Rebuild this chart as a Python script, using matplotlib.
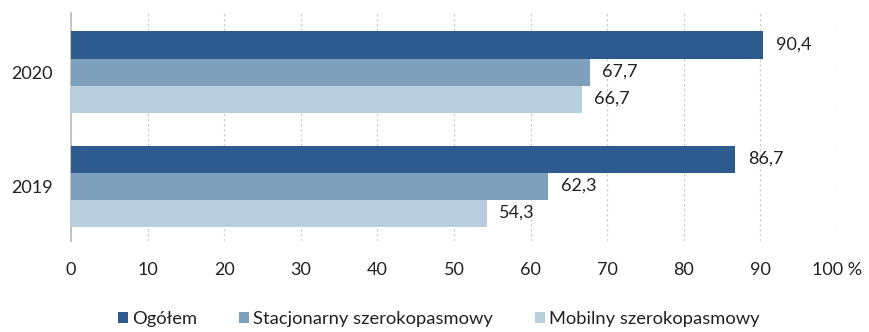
import matplotlib
matplotlib.use("Agg")
import matplotlib.pyplot as plt
import numpy as np

plt.rcParams['font.family'] = ['Lato', 'DejaVu Sans']

# - DATA -
years = ["2019", "2020"]
series = ["Ogółem", "Stacjonarny szerokopasmowy", "Mobilny szerokopasmowy"]
ogolem = [86.7, 90.4]
stacjonarny = [62.3, 67.7]
mobilny = [54.3, 66.7]
ticks = [0, 10, 20, 30, 40, 50, 60, 70, 80, 90, 100]
tick_labels = ["0", "10", "20", "30", "40", "50", "60", "70", "80", "90", "100 %"]
# - DATA -

colors = ["#2d5b8e", "#7ea0bd", "#b9cedd"]
txt = "#222222"

fig = plt.figure(figsize=(8.69, 3.32), dpi=100)
ax = fig.add_axes([0.0817, 0.274, 0.8815, 0.687])

y = np.arange(len(years))
h = 0.237
values = [ogolem, stacjonarny, mobilny]
for i, (vals, name, c) in enumerate(zip(values, series, colors)):
    bars = ax.barh(y + (1 - i) * h, vals, height=h, color=c, label=name, zorder=3)
    labels = [f"{v:.1f}".replace(".", ",") for v in vals]
    ax.bar_label(bars, labels=labels, padding=9, fontsize=13, color=txt)

ax.set_xlim(0, 100)
ax.set_ylim(-0.482, 1.518)
ax.set_xticks(ticks)
ax.set_xticklabels(tick_labels, fontsize=13, color=txt)
ax.set_yticks(y)
ax.set_yticklabels(years, fontsize=13, color=txt)
ax.tick_params(axis="x", length=0, pad=15)
ax.tick_params(axis="y", length=0, pad=13)

for s in ["top", "right", "bottom"]:
    ax.spines[s].set_visible(False)
ax.spines["left"].set_color("#bbbbbb")
ax.spines["left"].set_linewidth(1.2)

# dotted vertical gridlines behind the bars
ax.grid(axis="x", linestyle=(0, (2, 2)), color="#cfcfcf", linewidth=0.9, zorder=0)
ax.set_axisbelow(True)

fig.legend(loc="center", bbox_to_anchor=(0.505, 0.04), ncol=3, frameon=False,
           fontsize=13.2, handlelength=0.55, handleheight=0.55, handletextpad=0.2,
           columnspacing=2.3, labelcolor=txt)

fig.savefig("out.png", dpi=100)
